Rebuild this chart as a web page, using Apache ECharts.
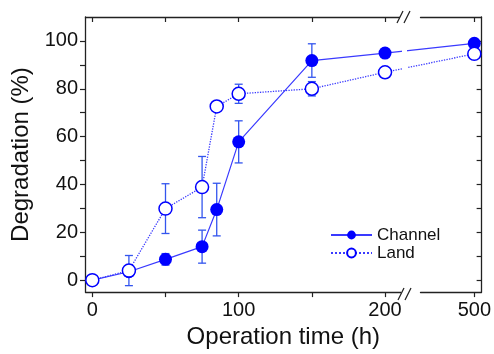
<!DOCTYPE html>
<html>
<head>
<meta charset="utf-8">
<script src="https://cdn.jsdelivr.net/npm/echarts@6.0.0/dist/echarts.min.js"></script>
<style>
html, body { margin: 0; padding: 0; background: #fff; }
#chart { width: 494px; height: 354px; }
</style>
</head>
<body>
<div id="chart"></div>
<script>
// operation time (h) and degradation (%)
const hours = [0, 25, 50, 75, 85, 100, 150, 200, 500];
const channel = [0, 3.5, 8.7, 14.0, 29.5, 57.8, 91.8, 94.9, 99.0];
const channelErr = [0, 0, 2.4, 6.9, 11.0, 8.8, 7.0, 1.0, 1.0];
const land = [0, 4.0, 29.9, 38.9, 72.6, 77.9, 80.0, 86.9, 94.6];
const landErr = [0, 6.3, 10.4, 12.8, 1.0, 4.0, 3.0, 1.0, 1.5];
const xLabels = [0, 100, 200, 500];
const xTicks = [0, 50, 100, 150, 200, 500];
const yLabels = [0, 20, 40, 60, 80, 100];
const yTicks = [0, 10, 20, 30, 40, 50, 60, 70, 80, 90, 100];

const font = "'Liberation Sans', Arial, sans-serif";
const markColor = "#0000ff";
const lineColor = "#3a3aff";
const barColor = "#3355ee";

function pairs(ys) {
  return hours.map((h, i) => [h, ys[i]]);
}
function errData(ys, es) {
  return hours.map((h, i) => [h, ys[i], es[i]]);
}

// error bars drawn through the axis scales
function renderErr(params, api) {
  const x = api.value(0);
  const y = api.value(1);
  const e = api.value(2);
  if (!e) return null;
  const lo = api.coord([x, y - e]);
  const hi = api.coord([x, y + e]);
  const cap = 4;
  const style = { stroke: barColor, lineWidth: 1.3 };
  return {
    type: "group",
    children: [
      { type: "line", shape: { x1: lo[0], y1: lo[1], x2: hi[0], y2: hi[1] }, style: style },
      { type: "line", shape: { x1: lo[0] - cap, y1: lo[1], x2: lo[0] + cap, y2: lo[1] }, style: style },
      { type: "line", shape: { x1: hi[0] - cap, y1: hi[1], x2: hi[0] + cap, y2: hi[1] }, style: style },
    ],
  };
}

const xBreaks = [{ start: 212, end: 463, gap: 12 }];
const axisLine = { show: true, onZero: false, lineStyle: { color: "#222", width: 1.3 } };
const tickStyle = { color: "#222", width: 1.2 };

const chart = echarts.init(document.getElementById("chart"));
chart.setOption({
  animation: false,
  grid: { left: 85, right: 11, top: 17, bottom: 60 },
  legend: {
    data: ["Channel", "Land"],
    orient: "vertical",
    left: 330,
    top: 226,
    padding: 0,
    itemWidth: 41,
    itemHeight: 11,
    itemGap: 0,
    textStyle: { fontFamily: font, fontSize: 17, color: "#111", lineHeight: 18 },
  },
  xAxis: [
    {
      type: "value",
      min: -5,
      max: 505,
      breaks: xBreaks,
      breakArea: { show: false, itemStyle: { opacity: 0, borderWidth: 0 } },
      name: "Operation time (h)",
      nameLocation: "middle",
      nameGap: 31,
      nameTextStyle: { fontFamily: font, fontSize: 24, color: "#111" },
      axisLine: axisLine,
      axisTick: { show: true, length: 5, inside: false, customValues: xTicks, lineStyle: tickStyle },
      axisLabel: { customValues: xLabels, fontFamily: font, fontSize: 20, color: "#111", margin: 8 },
      splitLine: { show: false },
    },
    {
      type: "value",
      position: "top",
      min: -5,
      max: 505,
      breaks: xBreaks,
      breakArea: { show: false, itemStyle: { opacity: 0, borderWidth: 0 } },
      axisLine: axisLine,
      axisTick: { show: true, length: 5, inside: true, customValues: xTicks, lineStyle: tickStyle },
      axisLabel: { show: false },
      splitLine: { show: false },
    },
  ],
  yAxis: [
    {
      type: "value",
      min: -5,
      max: 110,
      name: "Degradation (%)",
      nameLocation: "middle",
      nameGap: 50,
      nameTextStyle: { fontFamily: font, fontSize: 24, color: "#111" },
      axisLine: axisLine,
      axisTick: { show: true, length: 5, inside: false, customValues: yTicks, lineStyle: tickStyle },
      axisLabel: { customValues: yLabels, fontFamily: font, fontSize: 20, color: "#111", margin: 7 },
      splitLine: { show: false },
    },
    {
      type: "value",
      position: "right",
      min: -5,
      max: 110,
      axisLine: axisLine,
      axisTick: { show: true, length: 5, inside: true, customValues: yTicks, lineStyle: tickStyle },
      axisLabel: { show: false },
      splitLine: { show: false },
    },
  ],
  series: [
    {
      type: "custom",
      renderItem: renderErr,
      data: errData(channel, channelErr),
      z: 1,
      silent: true,
    },
    {
      type: "custom",
      renderItem: renderErr,
      data: errData(land, landErr),
      z: 1,
      silent: true,
    },
    {
      name: "Channel",
      type: "line",
      data: pairs(channel),
      symbol: "circle",
      symbolSize: 13,
      itemStyle: { color: markColor },
      lineStyle: { color: lineColor, width: 1.2, type: "solid" },
      z: 3,
    },
    {
      name: "Land",
      type: "line",
      data: pairs(land),
      symbol: "circle",
      symbolSize: 13,
      itemStyle: { color: "#fff", borderColor: markColor, borderWidth: 1.5 },
      lineStyle: { color: lineColor, width: 1.3, type: "dotted" },
      z: 4,
    },
  ],
  graphic: [
    // gap in the lines where the axis is broken
    { type: "rect", shape: { x: 402, y: 35, width: 5, height: 40 }, style: { fill: "#fff" }, z: 99 },
    // axis break marks
    { type: "rect", shape: { x: 400, y: 14, width: 9, height: 6 }, style: { fill: "#fff" }, z: 100 },
    { type: "line", shape: { x1: 397, y1: 23, x2: 403, y2: 11 }, style: { stroke: "#222", lineWidth: 1.2 }, z: 101 },
    { type: "line", shape: { x1: 404, y1: 23, x2: 410, y2: 11 }, style: { stroke: "#222", lineWidth: 1.2 }, z: 101 },
    { type: "rect", shape: { x: 401, y: 291, width: 9, height: 6 }, style: { fill: "#fff" }, z: 100 },
    { type: "line", shape: { x1: 398, y1: 300, x2: 404, y2: 288 }, style: { stroke: "#222", lineWidth: 1.2 }, z: 101 },
    { type: "line", shape: { x1: 405, y1: 300, x2: 411, y2: 288 }, style: { stroke: "#222", lineWidth: 1.2 }, z: 101 },
  ],
});
</script>
</body>
</html>
